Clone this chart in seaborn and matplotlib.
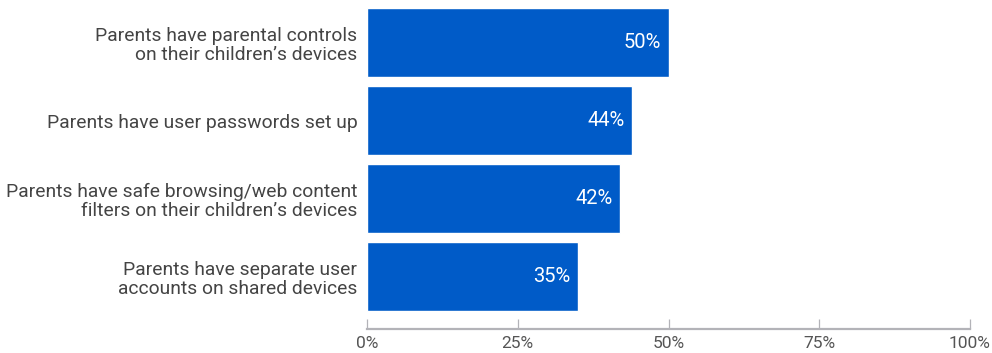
import matplotlib
matplotlib.use("Agg")
import matplotlib.pyplot as plt
import seaborn as sns
import pandas as pd
from matplotlib.ticker import FuncFormatter

categories = [
    "Parents have parental controls\non their children\u2019s devices",
    "Parents have user passwords set up",
    "Parents have safe browsing/web content\nfilters on their children\u2019s devices",
    "Parents have separate user\naccounts on shared devices",
]
values = [50, 44, 42, 35]
x_ticks = [0, 25, 50, 75, 100]

df = pd.DataFrame({"category": categories, "value": values})

sns.set_theme(style="white")
plt.rcParams["font.family"] = ["Roboto", "DejaVu Sans"]

fig = plt.figure(figsize=(9.92, 3.53), dpi=100)
ax = fig.add_axes([367 / 992, 24 / 353, (970 - 367) / 992, 329 / 353])

bar_color = "#005BC8"
sns.barplot(data=df, x="value", y="category", color=bar_color,
            width=0.885, saturation=1, ax=ax, orient="h")

for patch, v in zip(ax.patches, values):
    y = patch.get_y() + patch.get_height() / 2
    ax.text(v - 1.2, y, f"{v}%", ha="right", va="center",
            color="white", fontsize=14.5)

ax.set_xlim(0, 100)
ax.set_ylim(3.673, -0.545)
ax.set_xticks(x_ticks)
ax.xaxis.set_major_formatter(FuncFormatter(lambda v, _: f"{v:.0f}%"))
ax.set_xlabel("")
ax.set_ylabel("")

for side in ["top", "right", "left"]:
    ax.spines[side].set_visible(False)
ax.spines["bottom"].set_color("#b3b3b8")
ax.spines["bottom"].set_linewidth(1.6)

ax.tick_params(axis="x", bottom=True, direction="in", length=7.5, width=0.9,
               color="#b3b3b8", labelsize=12.5, labelcolor="#555555", pad=5)
ax.tick_params(axis="y", left=False, length=0, labelsize=13.85,
               labelcolor="#444444", pad=7)
for lbl in ax.get_yticklabels():
    lbl.set_linespacing(1.08)

fig.savefig("out.png", dpi=100)
